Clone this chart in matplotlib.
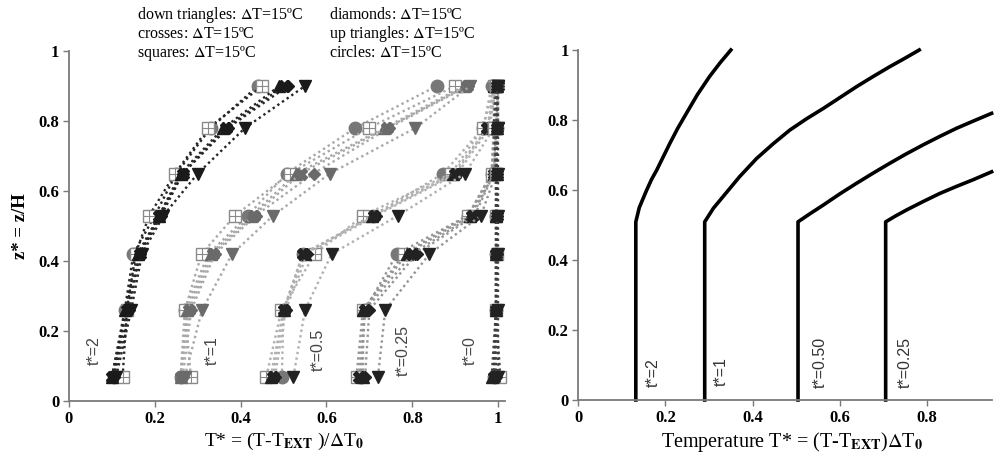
import numpy as np
import matplotlib
matplotlib.use("Agg")
import matplotlib.pyplot as plt

plt.rcParams['font.family'] = ['Liberation Serif', 'DejaVu Serif']
plt.rcParams['mathtext.fontset'] = 'stix'

# heights of the measuring points (z* = z/H)
z_levels = [0.07, 0.26, 0.42, 0.53, 0.65, 0.78, 0.90]

# measured T* per series, rows: down tri, crosses, squares, diamonds, up tri, circles
t2 = [[0.11, 0.145, 0.17, 0.22, 0.30, 0.41, 0.55],
      [0.10, 0.135, 0.165, 0.21, 0.265, 0.365, 0.50],
      [0.125, 0.135, 0.155, 0.187, 0.247, 0.325, 0.45],
      [0.105, 0.14, 0.165, 0.215, 0.265, 0.37, 0.51],
      [0.10, 0.13, 0.16, 0.21, 0.26, 0.36, 0.49],
      [0.105, 0.13, 0.15, 0.20, 0.25, 0.33, 0.44]]
t1 = [[0.27, 0.31, 0.38, 0.476, 0.608, 0.807, 0.935],
      [0.26, 0.28, 0.335, 0.43, 0.54, 0.74, 0.927],
      [0.284, 0.27, 0.309, 0.387, 0.515, 0.698, 0.90],
      [0.265, 0.285, 0.34, 0.435, 0.57, 0.745, 0.93],
      [0.26, 0.275, 0.33, 0.425, 0.53, 0.735, 0.92],
      [0.26, 0.27, 0.325, 0.417, 0.507, 0.667, 0.857]]
t05 = [[0.523, 0.55, 0.612, 0.767, 0.923, 0.99, 1.0],
       [0.475, 0.50, 0.545, 0.71, 0.90, 0.975, 0.995],
       [0.46, 0.495, 0.573, 0.686, 0.89, 0.965, 0.99],
       [0.48, 0.505, 0.555, 0.715, 0.905, 0.98, 0.995],
       [0.47, 0.50, 0.55, 0.705, 0.895, 0.975, 0.99],
       [0.496, 0.50, 0.545, 0.709, 0.872, 0.965, 0.985]]
t025 = [[0.72, 0.737, 0.84, 0.96, 0.995, 1.0, 1.0],
        [0.675, 0.69, 0.80, 0.94, 0.99, 0.995, 1.0],
        [0.67, 0.685, 0.78, 0.93, 0.985, 0.99, 0.995],
        [0.69, 0.70, 0.81, 0.945, 0.99, 0.995, 1.0],
        [0.685, 0.686, 0.787, 0.935, 0.99, 0.995, 0.995],
        [0.68, 0.69, 0.764, 0.93, 0.985, 0.99, 0.99]]
t0 = [[1.0, 1.0, 1.0, 1.0, 1.0, 1.0, 1.0],
      [0.99, 0.995, 0.995, 0.997, 0.997, 0.997, 0.997],
      [1.005, 0.995, 0.997, 0.995, 0.995, 0.99, 0.995],
      [0.995, 0.995, 0.997, 0.997, 0.997, 0.997, 0.997],
      [0.985, 0.995, 0.995, 0.995, 0.997, 0.997, 0.997],
      [0.99, 0.995, 0.995, 0.995, 0.995, 0.997, 0.997]]

groups = [t2, t1, t05, t025, t0]
group_labels = ['t*=2', 't*=1', 't*=0.5', 't*=0.25', 't*=0']
label_x = [0.058, 0.335, 0.58, 0.778, 0.935]
line_cols = ['#262626', '#a8a8a8', '#b0b0b0', '#959595', '#404040']
mark_cols = ['#1a1a1a', '#6a6a6a', '#222222', '#222222', '#222222']

# model curves (right panel)
m2_T = [0.132, 0.132, 0.140, 0.157, 0.168, 0.18, 0.195, 0.21, 0.228, 0.248,
        0.273, 0.301, 0.325, 0.35]
m2_z = [0.0, 0.509, 0.55, 0.60, 0.63, 0.657, 0.695, 0.733, 0.776, 0.819,
        0.872, 0.924, 0.963, 1.0]
m1_T = [0.29, 0.29, 0.31, 0.332, 0.37, 0.409, 0.447, 0.485, 0.523, 0.562,
        0.60, 0.638, 0.676, 0.714, 0.75, 0.782]
m1_z = [0.0, 0.509, 0.548, 0.581, 0.638, 0.69, 0.732, 0.771, 0.803, 0.833,
        0.864, 0.895, 0.924, 0.952, 0.977, 1.0]
m05_T = [0.504, 0.504, 0.53, 0.562, 0.60, 0.638, 0.676, 0.714, 0.752, 0.791,
         0.829, 0.867, 0.908, 0.948]
m05_z = [0.0, 0.509, 0.531, 0.557, 0.589, 0.619, 0.648, 0.676, 0.703, 0.729,
         0.753, 0.776, 0.798, 0.819]
m025_T = [0.705, 0.705, 0.728, 0.753, 0.791, 0.829, 0.867, 0.905, 0.948]
m025_z = [0.0, 0.509, 0.526, 0.543, 0.567, 0.59, 0.61, 0.629, 0.652]
model_labels = ['t*=2', 't*=1', 't*=0.50', 't*=0.25']
model_label_pos = [(0.172, 0.077), (0.329, 0.08), (0.554, 0.106), (0.749, 0.106)]

fig = plt.figure(figsize=(9.97, 4.65), dpi=100)
ax1 = fig.add_axes([0.0692, 0.1376, 0.4373, 0.7527])
ax2 = fig.add_axes([0.580, 0.1398, 0.4146, 0.7527])

for ax in (ax1, ax2):
    for s in ('top', 'right'):
        ax.spines[s].set_visible(False)
    for s in ('left', 'bottom'):
        ax.spines[s].set_color('#7a7a7a')
        ax.spines[s].set_linewidth(1.3)
    ax.tick_params(direction='out', length=4, width=1, color='#7a7a7a',
                   labelsize=12, pad=3)
    ax.set_ylim(0, 1)
    ax.set_yticks([0, 0.2, 0.4, 0.6, 0.8, 1])
    ax.set_yticklabels(['0', '0.2', '0.4', '0.6', '0.8', '1'], fontweight='bold')

# left panel: measurements (circles and squares underneath the dark marks)
draw_order = [5, 2, 4, 3, 1, 0]
for g, grp in enumerate(groups):
    lc = line_cols[g]
    mc = mark_cols[g]
    styles = [('v', mc, mc), ('X', mc, mc), ('s', 'white', '#8a8a8a'),
              ('D', mc, mc), ('^', mc, mc), ('o', '#777777', '#777777')]
    for k in draw_order:
        xs = grp[k]
        m, fc, ec = styles[k]
        ms = 9 if m != 'D' else 6.5
        ax1.plot(xs, z_levels, ls=(0, (1, 1.4)), lw=1.7, color=lc,
                 marker=m, mfc=fc, mec=ec, ms=ms, mew=1, clip_on=False,
                 zorder=3)
        if m == 's':
            ax1.plot(xs, z_levels, ls='none', marker='+', color='#8a8a8a',
                     ms=8.5, mew=0.8, clip_on=False, zorder=3)
    ax1.text(label_x[g], 0.145, group_labels[g], rotation=90, ha='center',
             va='center', fontsize=11.5, color='#444444',
             family=['Liberation Sans Narrow', 'Liberation Sans'])

ax1.set_xlim(0, 1.016)
ax1.set_xticks([0, 0.2, 0.4, 0.6, 0.8, 1])
ax1.set_xticklabels(['0', '0.2', '0.4', '0.6', '0.8', '1'], fontweight='bold')

# right panel: model
for xs, zs in [(m2_T, m2_z), (m1_T, m1_z), (m05_T, m05_z), (m025_T, m025_z)]:
    ax2.plot(xs, zs, color='black', lw=2.6, clip_on=False,
             solid_joinstyle='round')
for lab, (px, py) in zip(model_labels, model_label_pos):
    ax2.text(px, py, lab, rotation=90, ha='center', va='center', fontsize=11.5,
             color='#333333', family=['Liberation Sans Narrow', 'Liberation Sans'])
ax2.set_xlim(0, 0.948)
ax2.set_xticks([0, 0.2, 0.4, 0.6, 0.8])
ax2.set_xticklabels(['0', '0.2', '0.4', '0.6', '0.8'], fontweight='bold')

# header texts
col1 = ['down triangles: $\\Delta$T=15ºC', 'crosses: $\\Delta$T=15ºC', 'squares: $\\Delta$T=15ºC']
col2 = ['diamonds: $\\Delta$T=15ºC', 'up triangles: $\\Delta$T=15ºC', 'circles: $\\Delta$T=15ºC']
for i, (a, b) in enumerate(zip(col1, col2)):
    y = 0.968 - i * 0.041
    fig.text(0.137, y, a, fontsize=11.5, va='center', ha='left')
    fig.text(0.330, y, b, fontsize=11.5, va='center', ha='left')

fig.text(0.021, 0.514, 'z* = z/H', rotation=90, ha='center', va='center',
         fontsize=13.5, fontweight='bold')
fig.text(0.285, 0.05, r'T* = (T-T$_{\mathbf{EXT}}$ )/$\Delta$T$_{\mathbf{0}}$',
         ha='center', va='center', fontsize=14)
fig.text(0.795, 0.05, r'Temperature T* = (T-T$_{\mathbf{EXT}}$)$\Delta$T$_{\mathbf{0}}$',
         ha='center', va='center', fontsize=14.5)

fig.savefig('out.png', dpi=100)
